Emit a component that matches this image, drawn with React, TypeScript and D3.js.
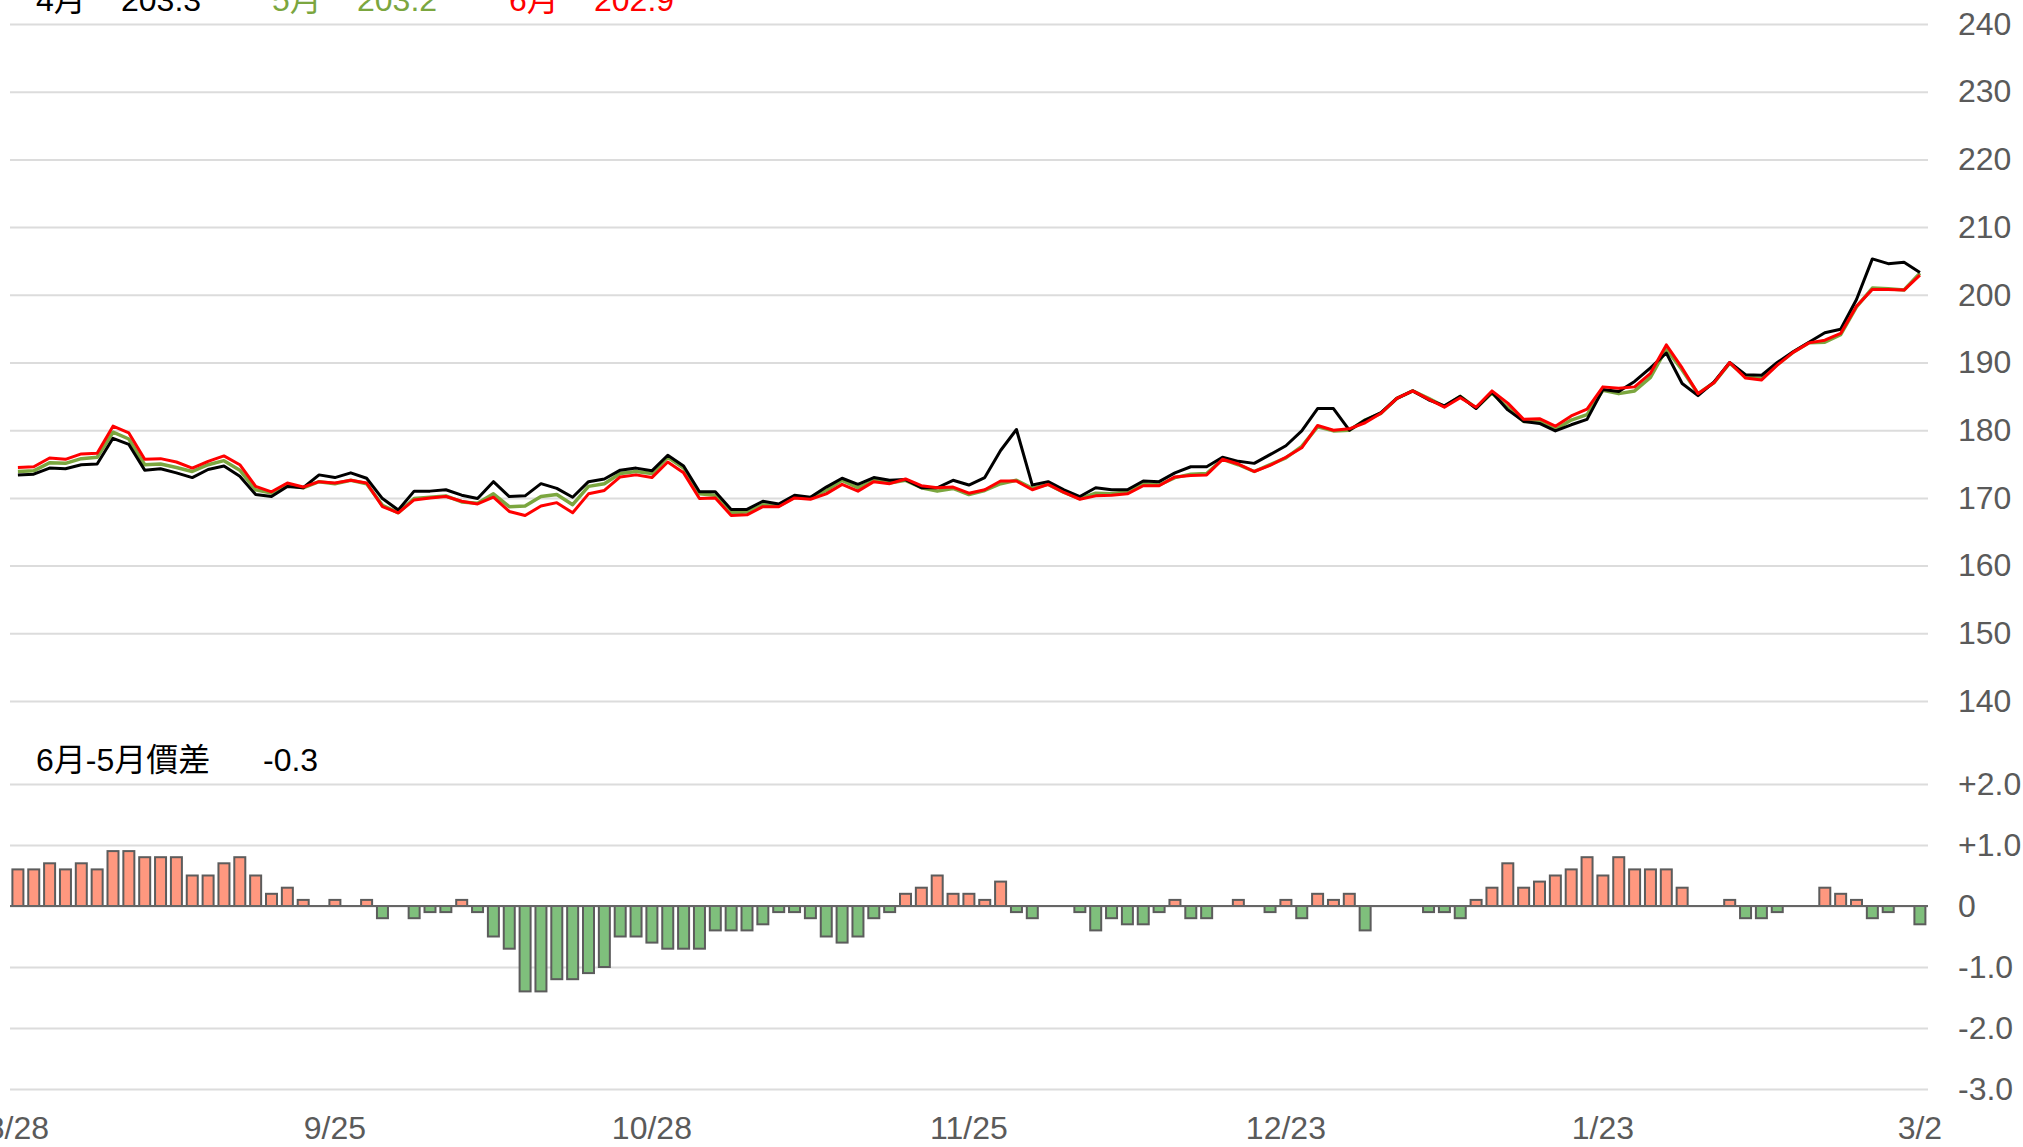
import React, { useEffect, useRef } from "react";
import * as d3 from "d3";

// 5月 contract (green)
const may = [
  173.9, 174.0, 175.2, 175.1, 175.8, 176.0, 179.7, 178.7, 174.9, 175.0, 174.5, 173.9, 174.9, 175.5, 174.1, 171.2, 170.7, 171.9, 171.5, 172.4, 172.1, 172.6, 172.1, 168.9, 167.8,
  169.9, 170.1, 170.3, 169.4, 169.2, 170.6, 168.7, 168.8, 170.2, 170.5, 169.0, 171.7, 172.1, 173.6, 173.9, 173.6, 176.0, 174.4, 170.6, 170.4, 167.8, 167.9, 169.0, 168.8, 170.1,
  170.0, 171.1, 172.6, 171.5, 172.6, 172.2, 172.6, 171.5, 171.0, 171.4, 170.5, 171.1, 172.1, 172.6, 171.4, 172.0, 170.8, 169.9, 170.7, 170.6, 170.9, 172.1, 171.9, 173.0, 173.5,
  173.6, 175.7, 174.9, 173.9, 174.9, 175.9, 177.6, 180.5, 179.9, 180.0, 181.5, 182.5, 184.7, 185.8, 184.7, 183.5, 185.0, 183.3, 185.5, 183.3, 181.3, 181.3, 180.1, 181.5, 182.3,
  185.9, 185.4, 185.8, 187.8, 192.0, 188.9, 185.4, 187.0, 189.9, 187.9, 187.6, 189.7, 191.5, 192.9, 193.0, 194.1, 198.2, 201.0, 200.9, 200.7, 203.2,
];

// 4月 contract (black)
const apr = [
  173.4, 173.5, 174.4, 174.3, 174.9, 175.0, 178.8, 177.9, 174.1, 174.3, 173.7, 173.0, 174.2, 174.7, 173.2, 170.5, 170.2, 171.7, 171.5, 173.4, 173.0, 173.7, 172.9, 169.9, 168.2,
  171.0, 171.0, 171.2, 170.4, 169.9, 172.4, 170.2, 170.3, 172.1, 171.4, 170.1, 172.4, 172.8, 174.1, 174.4, 174.0, 176.3, 174.7, 170.9, 170.9, 168.3, 168.3, 169.5, 169.1, 170.4,
  170.1, 171.6, 172.9, 172.0, 173.0, 172.6, 172.7, 171.5, 171.5, 172.6, 171.9, 173.0, 177.0, 180.1, 171.9, 172.4, 171.2, 170.2, 171.5, 171.2, 171.2, 172.5, 172.4, 173.7, 174.6,
  174.6, 176.0, 175.4, 175.1, 176.4, 177.7, 179.9, 183.2, 183.2, 180.0, 181.5, 182.6, 184.7, 185.8, 184.5, 183.6, 185.0, 183.2, 185.6, 183.0, 181.3, 181.0, 179.9, 180.8, 181.6,
  186.0, 185.7, 187.2, 189.2, 191.4, 186.9, 185.1, 187.1, 190.0, 188.2, 188.1, 190.0, 191.6, 193.0, 194.4, 194.9, 199.3, 205.3, 204.6, 204.8, 203.3,
];

// 6月-5月 spread (bars)
const spread = [
  0.6, 0.6, 0.7, 0.6, 0.7, 0.6, 0.9, 0.9, 0.8, 0.8, 0.8, 0.5, 0.5, 0.7, 0.8, 0.5, 0.2, 0.3, 0.1, 0, 0.1, 0, 0.1, -0.2, 0,
  -0.2, -0.1, -0.1, 0.1, -0.1, -0.5, -0.7, -1.4, -1.4, -1.2, -1.2, -1.1, -1.0, -0.5, -0.5, -0.6, -0.7, -0.7, -0.7, -0.4, -0.4, -0.4, -0.3, -0.1, -0.1,
  -0.2, -0.5, -0.6, -0.5, -0.2, -0.1, 0.2, 0.3, 0.5, 0.2, 0.2, 0.1, 0.4, -0.1, -0.2, 0, 0, -0.1, -0.4, -0.2, -0.3, -0.3, -0.1, 0.1, -0.2,
  -0.2, 0, 0.1, 0, -0.1, 0.1, -0.2, 0.2, 0.1, 0.2, -0.4, 0, 0, 0, -0.1, -0.1, -0.2, 0.1, 0.3, 0.7, 0.3, 0.4, 0.5, 0.6, 0.8,
  0.5, 0.8, 0.6, 0.6, 0.6, 0.3, 0, 0, 0.1, -0.2, -0.2, -0.1, 0, 0, 0.3, 0.2, 0.1, -0.2, -0.1, 0, -0.3,
];

// 6月 = 5月 + spread
const jun = may.map((v, i) => Math.round((v + spread[i]) * 10) / 10);

const tickIndex = [0, 20, 40, 60, 80, 100, 120];
const tickLabels = ["8/28", "9/25", "10/28", "11/25", "12/23", "1/23", "3/2"];
const priceTicks = [140, 150, 160, 170, 180, 190, 200, 210, 220, 230, 240];
const spreadTicks = [2, 1, 0, -1, -2, -3];

const FONT = "'Liberation Sans', Arial, 'Noto Sans CJK TC', sans-serif";
const GREEN = "#7ba63f";
const FS = "32px";

const App = () => {
  const svgRef = useRef(null);

  useEffect(() => {
    const svg = d3.select(svgRef.current);
    svg.selectAll("*").remove();

    const width = 2023;
    const height = 1147;
    const left = 10;
    const right = 1928;

    const x = d3
      .scalePoint()
      .domain(d3.range(may.length))
      .range([17.9, 1919.9]);

    const yTop = d3.scaleLinear().domain([140, 240]).range([701, 24]);
    const yBot = d3.scaleLinear().domain([-3, 2]).range([1089, 784]);

    svg.attr("width", width).attr("height", height);

    // right axes with gridlines
    const styleAxis = (g) => {
      g.select(".domain").remove();
      g.selectAll("line").attr("stroke", "#dcdcdc").attr("stroke-width", 2);
      g.selectAll("text")
        .attr("fill", "#5a5a5a")
        .style("font-size", FS)
        .style("font-family", FONT);
    };

    svg
      .append("g")
      .attr("transform", `translate(${right},0)`)
      .call(
        d3
          .axisRight(yTop)
          .tickValues(priceTicks)
          .tickSize(-(right - left))
          .tickPadding(30)
          .tickFormat(d3.format("d"))
      )
      .call(styleAxis);

    svg
      .append("g")
      .attr("transform", `translate(${right},0)`)
      .call(
        d3
          .axisRight(yBot)
          .tickValues(spreadTicks)
          .tickSize(-(right - left))
          .tickPadding(30)
          .tickFormat((d) => (d === 0 ? "0" : d > 0 ? "+" + d.toFixed(1) : d.toFixed(1)))
      )
      .call(styleAxis);

    // bars
    const barW = 11;
    svg
      .append("g")
      .selectAll("rect")
      .data(spread.map((v, i) => ({ v, i })).filter((d) => d.v !== 0))
      .join("rect")
      .attr("x", (d) => x(d.i) - barW / 2)
      .attr("y", (d) => yBot(Math.max(0, d.v)))
      .attr("width", barW)
      .attr("height", (d) => Math.abs(yBot(d.v) - yBot(0)))
      .attr("fill", (d) => (d.v > 0 ? "#ff987f" : "#7fbf7c"))
      .attr("stroke", "#5c5c5c")
      .attr("stroke-width", 2);

    // zero line
    svg
      .append("line")
      .attr("x1", left)
      .attr("x2", right)
      .attr("y1", yBot(0))
      .attr("y2", yBot(0))
      .attr("stroke", "#666")
      .attr("stroke-width", 2);

    // price lines
    const line = d3
      .line()
      .x((d, i) => x(i))
      .y((d) => yTop(d));

    [
      { data: may, color: GREEN, w: 3.5 },
      { data: apr, color: "#000", w: 3 },
      { data: jun, color: "#ff0000", w: 3 },
    ].forEach((s) => {
      svg
        .append("path")
        .datum(s.data)
        .attr("fill", "none")
        .attr("stroke", s.color)
        .attr("stroke-width", s.w)
        .attr("stroke-linejoin", "round")
        .attr("d", line);
    });

    // x axis labels
    svg
      .append("g")
      .selectAll("text")
      .data(tickIndex)
      .join("text")
      .attr("x", (d) => x(d))
      .attr("y", 1139)
      .attr("text-anchor", "middle")
      .attr("fill", "#5a5a5a")
      .style("font-size", FS)
      .style("font-family", FONT)
      .text((d, i) => tickLabels[i]);

    // header legend
    const legend = [
      { label: "4月", value: apr[apr.length - 1], color: "#000", x: 36 },
      { label: "5月", value: may[may.length - 1], color: GREEN, x: 272 },
      { label: "6月", value: jun[jun.length - 1], color: "#ff0000", x: 509 },
    ];
    legend.forEach((l) => {
      const t = svg
        .append("text")
        .attr("x", l.x)
        .attr("y", 11)
        .attr("fill", l.color)
        .style("font-size", FS)
        .style("font-family", FONT);
      t.append("tspan").text(l.label);
      t.append("tspan").attr("x", l.x + 85).text(l.value.toFixed(1));
    });

    const spreadText = svg
      .append("text")
      .attr("x", 36)
      .attr("y", 771)
      .attr("fill", "#000")
      .style("font-size", FS)
      .style("font-family", FONT);
    spreadText.append("tspan").text("6月-5月價差");
    spreadText
      .append("tspan")
      .attr("x", 263)
      .text(spread[spread.length - 1].toFixed(1));
  }, []);

  return (
    <div style={{ position: "absolute", left: 0, top: 0 }}>
      <svg ref={svgRef}></svg>
    </div>
  );
};

export default App;
